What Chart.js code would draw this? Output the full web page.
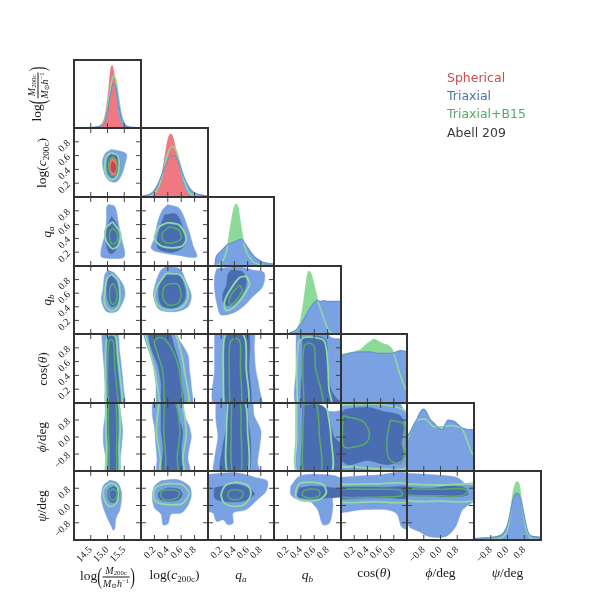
<!DOCTYPE html>
<html>
<head>
<meta charset="utf-8">
<script src="https://cdn.jsdelivr.net/npm/chart.js@4.4.1/dist/chart.umd.min.js"></script>
<style>
body { margin: 0; background: #fff; }
#wrap { position: relative; width: 600px; height: 600px; overflow: hidden; }
#wrap canvas { position: absolute; left: 0; top: 0; }
.ttl { position: absolute; font-family: "Liberation Serif", "DejaVu Serif", serif; font-size: 13.5px; color: #1a1a1a; white-space: nowrap; transform: translate(-50%, -50%); line-height: 1; }
.ttl.rot { transform: translate(-50%, -50%) rotate(-90deg); }
.ttl sub, .ttl sup { font-size: 68%; line-height: 0; }
.ttl sub { vertical-align: -0.25em; }
.ttl sup { vertical-align: 0.45em; }
.fr { display: inline-block; vertical-align: middle; text-align: center; font-size: 10px; margin: 0 1px; }
.fr .nu { display: block; border-bottom: 0.8px solid #1a1a1a; padding: 0 1px 1px; }
.fr .de { display: block; padding-top: 1px; }
.bp { display: inline-block; font-size: 14px; transform: scaleY(1.7); vertical-align: middle; }
.leg { position: absolute; left: 447px; font-family: "DejaVu Sans", sans-serif; font-size: 12.5px; transform: translateY(-50%); white-space: nowrap; }
</style>
</head>
<body>
<div id="wrap"></div>
<script>
// axes: logM, log c200c, qa, qb, cos(theta), phi, psi
const axisMin = [14, 0, 0, 0, 0, -1.6, -1.6];
const axisMax = [16, 1, 1, 1, 1, 1.6, 1.6];
const tickVals = [[14.5, 15, 15.5], [0.2, 0.4, 0.6, 0.8], [0.2, 0.4, 0.6, 0.8], [0.2, 0.4, 0.6, 0.8], [0.2, 0.4, 0.6, 0.8], [-0.8, 0, 0.8], [-0.8, 0, 0.8]];
const tickText = [['14.5', '15.0', '15.5'], ['0.2', '0.4', '0.6', '0.8'], ['0.2', '0.4', '0.6', '0.8'], ['0.2', '0.4', '0.6', '0.8'], ['0.2', '0.4', '0.6', '0.8'], ['\u22120.8', '0.0', '0.8'], ['\u22120.8', '0.0', '0.8']];
const axisTitles = [
  'log<span class="bp">(</span><span class="fr"><span class="nu"><i>M</i><sub>200c</sub></span><span class="de"><i>M</i><sub>\u2299</sub><i>h</i><sup>\u22121</sup></span></span><span class="bp">)</span>',
  'log(<i>c</i><sub>200c</sub>)',
  '<i>q</i><sub><i>a</i></sub>',
  '<i>q</i><sub><i>b</i></sub>',
  'cos(<i>\u03b8</i>)',
  '<i>\u03d5</i>/deg',
  '<i>\u03c8</i>/deg'
];
const legendNames = ['Spherical', 'Triaxial', 'Triaxial+B15', 'Abell 209'];

// 1D marginals (diagonal)
const M_x = [14.0, 14.6, 14.8, 14.9, 15.0, 15.05, 15.1, 15.15, 15.2, 15.25, 15.3, 15.4, 15.5, 15.6, 15.8, 16.0];
const M_red = [0, 0.01, 0.05, 0.15, 0.45, 0.7, 0.9, 0.92, 0.82, 0.6, 0.3, 0.07, 0.01, 0, 0, 0];
const M_green = [0, 0.01, 0.03, 0.08, 0.3, 0.45, 0.62, 0.74, 0.77, 0.7, 0.55, 0.22, 0.06, 0.02, 0, 0];
const M_blue = [0, 0.01, 0.03, 0.06, 0.25, 0.38, 0.52, 0.63, 0.65, 0.6, 0.45, 0.18, 0.06, 0.02, 0.01, 0];

const c_x = [0, 0.05, 0.1, 0.15, 0.2, 0.25, 0.3, 0.35, 0.4, 0.45, 0.5, 0.55, 0.6, 0.65, 0.7, 0.75, 0.8, 0.85, 0.9, 0.95, 1.0];
const c_red = [0, 0, 0, 0.01, 0.04, 0.12, 0.3, 0.58, 0.85, 0.92, 0.8, 0.55, 0.3, 0.13, 0.05, 0.01, 0, 0, 0, 0, 0];
const c_green = [0, 0, 0.01, 0.02, 0.05, 0.12, 0.25, 0.45, 0.63, 0.73, 0.72, 0.6, 0.4, 0.22, 0.1, 0.04, 0.02, 0.01, 0, 0, 0];
const c_blue = [0, 0.02, 0.03, 0.05, 0.1, 0.18, 0.3, 0.42, 0.53, 0.6, 0.6, 0.53, 0.4, 0.27, 0.17, 0.1, 0.06, 0.04, 0.03, 0.02, 0.01];

const qa_x = [0, 0.1, 0.12, 0.15, 0.2, 0.25, 0.3, 0.35, 0.4, 0.43, 0.45, 0.5, 0.55, 0.6, 0.65, 0.7, 0.75, 0.8, 0.85, 0.9, 1.0];
const qa_green = [0, 0, 0.01, 0.01, 0.05, 0.12, 0.3, 0.6, 0.85, 0.89, 0.85, 0.55, 0.3, 0.17, 0.1, 0.05, 0.03, 0.01, 0.01, 0, 0];
const qa_blue = [0, 0, 0.12, 0.17, 0.22, 0.27, 0.31, 0.33, 0.35, 0.36, 0.37, 0.39, 0.34, 0.27, 0.2, 0.14, 0.1, 0.07, 0.05, 0.04, 0.03];

const qb_x = [0, 0.2, 0.25, 0.3, 0.35, 0.4, 0.45, 0.5, 0.52, 0.55, 0.6, 0.65, 0.7, 0.75, 0.8, 0.85, 0.9, 0.95, 1.0];
const qb_green = [0, 0, 0.02, 0.04, 0.08, 0.2, 0.5, 0.85, 0.92, 0.88, 0.7, 0.5, 0.35, 0.21, 0.08, 0.02, 0, 0, 0];
const qb_blue = [0, 0, 0.02, 0.04, 0.08, 0.14, 0.22, 0.32, 0.35, 0.4, 0.46, 0.49, 0.48, 0.49, 0.48, 0.48, 0.48, 0.48, 0.48];

const ct_x = [0, 0.1, 0.2, 0.3, 0.38, 0.45, 0.5, 0.58, 0.65, 0.72, 0.78, 0.83, 0.9, 0.97, 1.0];
const ct_green = [0.70, 0.72, 0.74, 0.77, 0.84, 0.89, 0.92, 0.88, 0.85, 0.83, 0.76, 0.62, 0.40, 0.22, 0.17];
const ct_blue = [0.68, 0.71, 0.73, 0.74, 0.74, 0.74, 0.73, 0.72, 0.72, 0.72, 0.72, 0.74, 0.76, 0.75, 0.74];

const ph_x = [-1.6, -1.4, -1.2, -1.1, -1.0, -0.8, -0.7, -0.5, -0.3, -0.1, 0.1, 0.25, 0.35, 0.5, 0.65, 0.85, 1.0, 1.15, 1.3, 1.45, 1.6];
const ph_blue = [0.5, 0.6, 0.72, 0.78, 0.85, 0.91, 0.88, 0.76, 0.7, 0.63, 0.61, 0.7, 0.75, 0.74, 0.73, 0.68, 0.64, 0.62, 0.61, 0.61, 0.6];
const ph_green = [0.45, 0.6, 0.72, 0.75, 0.76, 0.77, 0.76, 0.7, 0.65, 0.65, 0.65, 0.66, 0.66, 0.67, 0.66, 0.65, 0.63, 0.55, 0.42, 0.3, 0.22];

const ps_x = [-1.6, -1.2, -0.8, -0.4, -0.2, 0, 0.1, 0.2, 0.3, 0.45, 0.55, 0.65, 0.7, 0.8, 0.9, 1.0, 1.1, 1.3, 1.6];
const ps_blue = [0.02, 0.03, 0.04, 0.06, 0.1, 0.22, 0.35, 0.5, 0.62, 0.68, 0.66, 0.56, 0.5, 0.35, 0.2, 0.1, 0.06, 0.05, 0.04];
const ps_green = [0, 0, 0.01, 0.02, 0.05, 0.15, 0.3, 0.52, 0.72, 0.84, 0.8, 0.6, 0.5, 0.3, 0.15, 0.07, 0.03, 0.01, 0];

// 2D contours, [x, y] in data units. b = Triaxial, g = Triaxial+B15, r = Spherical; 95 / 68 levels
const c_M_b95 = [[15.12, 0.69], [15.42, 0.66], [15.57, 0.62], [15.52, 0.47], [15.42, 0.32], [15.27, 0.22], [15.07, 0.23], [14.92, 0.32], [14.85, 0.52], [14.95, 0.64]];
const c_M_b68 = [[15.1, 0.62], [15.28, 0.6], [15.37, 0.5], [15.33, 0.36], [15.22, 0.28], [15.07, 0.3], [14.99, 0.4], [15.0, 0.55]];
const c_M_g95 = [[15.12, 0.64], [15.3, 0.6], [15.35, 0.45], [15.28, 0.3], [15.12, 0.25], [14.96, 0.32], [14.92, 0.48], [14.98, 0.6]];
const c_M_g68 = [[15.15, 0.59], [15.27, 0.53], [15.29, 0.42], [15.22, 0.31], [15.1, 0.32], [15.03, 0.42], [15.05, 0.54]];
const c_M_r95 = [[15.15, 0.57], [15.26, 0.52], [15.29, 0.4], [15.22, 0.32], [15.1, 0.33], [15.05, 0.42], [15.08, 0.53]];
const c_M_r68 = [[15.16, 0.52], [15.24, 0.46], [15.24, 0.38], [15.17, 0.35], [15.11, 0.4], [15.11, 0.48]];

const qa_M_b95 = [[15.02, 0.89], [15.22, 0.86], [15.32, 0.64], [15.42, 0.40], [15.52, 0.18], [15.47, 0.12], [15.17, 0.11], [14.82, 0.13], [14.82, 0.26], [14.92, 0.45], [14.97, 0.69], [14.97, 0.84]];
const qa_M_b68 = [[15.12, 0.72], [15.29, 0.59], [15.32, 0.38], [15.22, 0.21], [15.07, 0.18], [14.97, 0.30], [14.99, 0.55]];
const qa_M_g95 = [[15.15, 0.64], [15.39, 0.47], [15.32, 0.30], [15.15, 0.25], [14.95, 0.38], [14.95, 0.55]];
const qa_M_g68 = [[15.17, 0.55], [15.29, 0.47], [15.27, 0.35], [15.15, 0.32], [15.07, 0.38], [15.07, 0.50]];

const qb_M_b95 = [[15.02, 0.94], [15.22, 0.89], [15.47, 0.72], [15.52, 0.57], [15.42, 0.43], [15.27, 0.33], [14.97, 0.33], [14.82, 0.50], [14.87, 0.67], [14.92, 0.87]];
const qb_M_b68 = [[15.07, 0.89], [15.27, 0.77], [15.35, 0.57], [15.27, 0.43], [15.12, 0.40], [14.99, 0.53], [14.99, 0.75]];
const qb_M_g95 = [[15.12, 0.88], [15.32, 0.79], [15.37, 0.57], [15.32, 0.40], [15.12, 0.34], [14.92, 0.43], [14.92, 0.62], [14.99, 0.82]];
const qb_M_g68 = [[15.15, 0.75], [15.27, 0.65], [15.27, 0.50], [15.17, 0.43], [15.07, 0.50], [15.07, 0.67]];

const ct_M_b95 = [[14.82, 1.05], [15.27, 1.05], [15.36, 0.75], [15.42, 0.5], [15.47, 0.25], [15.49, -0.05], [14.97, -0.05], [14.93, 0.25], [14.9, 0.5], [14.86, 0.75]];
const ct_M_b68 = [[14.95, 1.05], [15.2, 1.05], [15.28, 0.6], [15.35, 0.25], [15.37, -0.05], [15.07, -0.05], [15.02, 0.3], [14.97, 0.65]];
const ct_M_g95 = [[14.95, -0.05], [14.94, 0.4], [14.95, 0.8], [15.0, 0.97], [15.12, 0.99], [15.25, 0.95], [15.3, 0.7], [15.37, 0.4], [15.42, -0.05]];
const ct_M_g68 = [[15.02, -0.05], [15.0, 0.4], [15.03, 0.85], [15.1, 0.92], [15.18, 0.88], [15.22, 0.5], [15.28, 0.2], [15.3, -0.05]];

const ph_M_b95 = [[14.93, 1.7], [15.3, 1.7], [15.4, 1.0], [15.45, 0.3], [15.42, -0.4], [15.38, -1.0], [15.35, -1.7], [14.95, -1.7], [14.95, -1.0], [14.88, -0.3], [14.88, 0.4], [14.93, 1.0]];
const ph_M_b68 = [[15.0, 1.7], [15.27, 1.7], [15.32, 0.5], [15.3, -0.5], [15.28, -1.7], [15.05, -1.7], [15.03, -0.5], [14.98, 0.5]];
const ph_M_g95 = [[14.97, 1.7], [14.95, 0.5], [14.97, -0.5], [14.99, -1.7], [15.33, -1.7], [15.35, -0.5], [15.38, 0.5], [15.3, 1.7]];
const ph_M_g68 = [[15.03, 1.7], [15.02, 0.5], [15.05, -0.5], [15.07, -1.7], [15.25, -1.7], [15.27, -0.5], [15.28, 0.5], [15.23, 1.7]];

const ps_M_b95 = [[15.07, 1.18], [15.3, 1.05], [15.42, 0.59], [15.37, -0.19], [15.25, -0.6], [15.22, -1.05], [15.17, -1.15], [15.12, -0.97], [14.97, -0.5], [14.82, 0.28], [14.87, 0.9]];
const ps_M_b68 = [[15.17, 0.9], [15.3, 0.78], [15.35, 0.5], [15.28, 0.2], [15.12, 0.14], [15.02, 0.35], [15.03, 0.72]];
const ps_M_g95 = [[15.1, 1.05], [15.28, 0.9], [15.32, 0.5], [15.25, 0.08], [15.05, -0.04], [14.9, 0.3], [14.9, 0.8]];
const ps_M_g68 = [[15.17, 0.77], [15.27, 0.66], [15.29, 0.5], [15.22, 0.28], [15.1, 0.28], [15.05, 0.5], [15.08, 0.7]];

const qa_c_b95 = [[0.40, 0.89], [0.575, 0.83], [0.70, 0.55], [0.775, 0.30], [0.83, 0.13], [0.525, 0.16], [0.225, 0.21], [0.15, 0.26], [0.20, 0.40], [0.25, 0.64], [0.32, 0.81]];
const qa_c_b68 = [[0.35, 0.74], [0.525, 0.75], [0.625, 0.55], [0.65, 0.30], [0.475, 0.20], [0.25, 0.26], [0.265, 0.50]];
const qa_c_g95 = [[0.40, 0.63], [0.575, 0.59], [0.675, 0.40], [0.60, 0.28], [0.325, 0.28], [0.20, 0.40], [0.275, 0.57]];
const qa_c_g68 = [[0.425, 0.57], [0.565, 0.52], [0.60, 0.40], [0.50, 0.34], [0.35, 0.35], [0.315, 0.47]];

const qb_c_b95 = [[0.375, 0.99], [0.575, 0.96], [0.675, 0.77], [0.75, 0.57], [0.70, 0.40], [0.525, 0.33], [0.275, 0.36], [0.185, 0.57], [0.225, 0.77], [0.30, 0.94]];
const qb_c_b68 = [[0.35, 0.87], [0.55, 0.89], [0.65, 0.70], [0.65, 0.50], [0.50, 0.38], [0.30, 0.43], [0.265, 0.67]];
const qb_c_g95 = [[0.375, 0.89], [0.575, 0.87], [0.675, 0.72], [0.70, 0.53], [0.60, 0.39], [0.35, 0.36], [0.215, 0.48], [0.225, 0.67]];
const qb_c_g68 = [[0.425, 0.74], [0.55, 0.73], [0.60, 0.57], [0.55, 0.45], [0.40, 0.43], [0.325, 0.55], [0.35, 0.70]];

const ct_c_b95 = [[0.02, 1.05], [0.48, 1.05], [0.58, 0.9], [0.7, 0.7], [0.72, 0.5], [0.75, 0.25], [0.75, -0.05], [0.27, -0.05], [0.22, 0.3], [0.17, 0.6], [0.08, 0.85]];
const ct_c_b68 = [[0.1, 1.05], [0.4, 1.05], [0.5, 0.8], [0.575, 0.55], [0.6, 0.3], [0.625, -0.05], [0.325, -0.05], [0.3, 0.3], [0.25, 0.55], [0.15, 0.8]];
const ct_c_g95 = [[0.29, -0.05], [0.21, 0.45], [0.12, 0.8], [0.07, 1.05], [0.47, 1.05], [0.58, 0.8], [0.65, 0.45], [0.7, -0.05]];
const ct_c_g68 = [[0.35, -0.05], [0.325, 0.45], [0.22, 0.8], [0.2, 0.9], [0.28, 0.95], [0.38, 0.9], [0.5, 0.7], [0.575, 0.45], [0.6, -0.05]];

const ph_c_b95 = [[0.17, 1.7], [0.6, 1.7], [0.65, 1.0], [0.72, 0.5], [0.75, 0.0], [0.72, -0.5], [0.7, -1.0], [0.72, -1.7], [0.25, -1.7], [0.24, -1.0], [0.22, -0.3], [0.2, 0.5], [0.17, 1.0]];
const ph_c_b68 = [[0.3, 1.7], [0.5, 1.7], [0.55, 1.0], [0.62, 0.3], [0.6, -0.5], [0.6, -1.7], [0.33, -1.7], [0.33, -0.5], [0.3, 0.3], [0.3, 1.0]];
const ph_c_g95 = [[0.27, 1.7], [0.23, 0.3], [0.29, -1.0], [0.3, -1.7], [0.63, -1.7], [0.625, -1.0], [0.675, 0.3], [0.575, 1.7]];
const ph_c_g68 = [[0.35, 1.7], [0.34, 0.3], [0.37, -1.0], [0.38, -1.7], [0.55, -1.7], [0.54, -1.0], [0.58, 0.3], [0.5, 1.7]];

const ps_c_b95 = [[0.3, 1.15], [0.55, 1.2], [0.72, 0.9], [0.75, 0.45], [0.7, 0.0], [0.6, -0.35], [0.45, -0.4], [0.4, -0.85], [0.33, -0.9], [0.3, -0.4], [0.2, -0.1], [0.17, 0.4], [0.2, 0.9]];
const ps_c_b68 = [[0.4, 0.82], [0.57, 0.75], [0.615, 0.5], [0.55, 0.25], [0.4, 0.2], [0.28, 0.3], [0.265, 0.6]];
const ps_c_g95 = [[0.4, 1.02], [0.62, 0.95], [0.715, 0.55], [0.62, 0.1], [0.4, 0.04], [0.22, 0.2], [0.185, 0.6], [0.25, 0.9]];
const ps_c_g68 = [[0.42, 0.74], [0.55, 0.68], [0.575, 0.5], [0.5, 0.3], [0.35, 0.28], [0.29, 0.5], [0.32, 0.68]];

const qb_qa_b95 = [[0.13, 0.96], [0.48, 0.99], [0.68, 0.94], [0.85, 0.9], [0.83, 0.70], [0.68, 0.55], [0.53, 0.40], [0.38, 0.31], [0.20, 0.28], [0.15, 0.38], [0.10, 0.65], [0.10, 0.84]];
const qb_qa_b68 = [[0.35, 0.94], [0.53, 0.91], [0.58, 0.74], [0.50, 0.55], [0.38, 0.43], [0.25, 0.43], [0.22, 0.57], [0.28, 0.72], [0.30, 0.87]];
const qb_qa_g95 = [[0.58, 0.85], [0.63, 0.74], [0.53, 0.55], [0.38, 0.38], [0.27, 0.35], [0.25, 0.48], [0.35, 0.67], [0.48, 0.83]];
const qb_qa_g68 = [[0.48, 0.72], [0.52, 0.65], [0.43, 0.50], [0.34, 0.43], [0.32, 0.50], [0.38, 0.62]];

const ct_qa_b95 = [[0.1, 1.05], [0.68, 1.05], [0.7, 0.8], [0.72, 0.5], [0.78, 0.2], [0.8, -0.05], [0.1, -0.05], [0.1, 0.5]];
const ct_qa_b68 = [[0.25, 1.05], [0.6, 1.05], [0.62, 0.5], [0.63, -0.05], [0.28, -0.05], [0.25, 0.5]];
const ct_qa_g95 = [[0.24, -0.05], [0.23, 0.5], [0.24, 0.9], [0.3, 1.02], [0.5, 1.02], [0.57, 0.9], [0.58, 0.5], [0.6, -0.05]];
const ct_qa_g68 = [[0.33, -0.05], [0.32, 0.5], [0.33, 0.85], [0.38, 0.93], [0.45, 0.93], [0.49, 0.85], [0.49, 0.5], [0.5, -0.05]];

const ph_qa_b95 = [[0.12, 1.7], [0.65, 1.7], [0.7, 1.0], [0.8, 0.3], [0.78, -0.5], [0.75, -1.2], [0.78, -1.7], [0.1, -1.7], [0.1, -1.0], [0.15, 0.0], [0.12, 0.8]];
const ph_qa_b68 = [[0.28, 1.7], [0.55, 1.7], [0.62, 0.5], [0.65, -0.5], [0.6, -1.7], [0.2, -1.7], [0.22, -0.5], [0.28, 0.5]];
const ph_qa_g95 = [[0.3, 1.7], [0.28, 0.3], [0.3, -1.7], [0.6, -1.7], [0.6, 0.3], [0.55, 1.7]];
const ph_qa_g68 = [[0.36, 1.7], [0.35, 0.3], [0.37, -1.7], [0.5, -1.7], [0.5, 0.3], [0.48, 1.7]];

const ps_qa_b95 = [[0.0, 1.44], [0.43, 1.52], [0.73, 1.29], [0.90, 1.13], [0.88, 0.66], [0.75, 0.28], [0.58, -0.19], [0.38, -0.35], [0.38, -0.81], [0.30, -0.89], [0.23, -0.66], [0.13, -0.74], [0.075, -0.35], [-0.05, -0.19], [-0.05, 1.4]];
const ps_qa_b68 = [[0.10, 0.82], [0.43, 0.98], [0.65, 0.74], [0.70, 0.51], [0.53, 0.20], [0.23, 0.20], [0.10, 0.35]];
const ps_qa_g95 = [[0.42, 1.08], [0.6, 0.95], [0.65, 0.5], [0.55, 0.05], [0.42, -0.04], [0.25, 0.1], [0.2, 0.5], [0.27, 0.95]];
const ps_qa_g68 = [[0.42, 0.74], [0.52, 0.65], [0.53, 0.45], [0.45, 0.28], [0.33, 0.32], [0.3, 0.52], [0.34, 0.7]];

const ct_qb_b95 = [[0.33, 1.05], [0.75, 1.05], [0.85, 0.95], [1.05, 0.9], [1.05, -0.05], [0.35, -0.05], [0.33, 0.5]];
const ct_qb_b68 = [[0.43, 0.95], [0.65, 0.97], [0.78, 0.9], [0.8, 0.5], [0.85, 0.2], [0.95, 0.05], [1.05, 0.0], [1.05, -0.05], [0.45, -0.05], [0.42, 0.5]];
const ct_qb_g95 = [[0.35, -0.05], [0.34, 0.5], [0.37, 0.88], [0.45, 0.95], [0.6, 0.95], [0.75, 0.9], [0.8, 0.6], [0.82, 0.2], [0.85, -0.05]];
const ct_qb_g68 = [[0.45, -0.05], [0.43, 0.5], [0.45, 0.82], [0.52, 0.87], [0.6, 0.82], [0.62, 0.5], [0.7, 0.2], [0.73, -0.05]];

const ph_qb_b95 = [[0.35, 1.7], [0.65, 1.7], [0.7, 1.3], [0.9, 1.2], [1.05, 1.2], [1.05, -1.7], [0.37, -1.7], [0.35, 0.0]];
const ph_qb_b68 = [[0.43, 1.5], [0.7, 1.5], [0.8, 1.2], [0.85, 0.5], [0.9, 0.0], [1.05, -0.5], [1.05, -1.7], [0.45, -1.7], [0.42, 0.0]];
const ph_qb_g95 = [[0.33, 1.7], [0.33, 0.0], [0.35, -1.7], [0.85, -1.7], [0.85, 0.0], [0.8, 1.2], [0.75, 1.7]];
const ph_qb_g68 = [[0.45, 1.7], [0.43, 0.0], [0.45, -1.7], [0.7, -1.7], [0.68, 0.0], [0.62, 1.7]];

const ps_qb_b95 = [[0.25, 0.90], [0.38, 1.36], [0.68, 1.44], [0.98, 1.29], [1.05, 0.66], [0.88, 0.35], [0.88, -0.04], [0.83, -0.81], [0.73, -0.89], [0.65, -0.19], [0.53, 0.20], [0.33, 0.31], [0.25, 0.51]];
const ps_qb_b68 = [[0.38, 0.82], [0.58, 0.90], [0.88, 0.82], [1.05, 0.74], [1.05, 0.44], [0.78, 0.35], [0.53, 0.31], [0.35, 0.43]];
const ps_qb_g95 = [[0.33, 0.74], [0.38, 1.02], [0.53, 1.08], [0.73, 0.97], [0.78, 0.59], [0.68, 0.28], [0.48, 0.20], [0.33, 0.35]];
const ps_qb_g68 = [[0.43, 0.66], [0.55, 0.78], [0.68, 0.66], [0.67, 0.43], [0.53, 0.35], [0.42, 0.47]];

const ph_ct_b95 = [[-0.05, 1.7], [0.85, 1.7], [0.95, 1.3], [1.05, 1.0], [1.05, -1.7], [-0.05, -1.7]];
const ph_ct_b68 = [[0.05, 1.3], [0.4, 1.4], [0.65, 1.2], [0.9, 1.0], [0.95, 0.5], [0.92, -0.3], [0.95, -1.0], [0.7, -1.3], [0.4, -1.1], [0.1, -1.3], [-0.05, -0.8], [-0.05, 0.8]];
const ph_ct_g95 = [[-0.05, 1.5], [0.5, 1.55], [0.85, 1.4], [1.0, 1.1], [1.0, -1.4], [0.6, -1.5], [0.2, -1.4], [-0.05, -1.3]];
const ph_ct_g68a = [[0.03, 1.0], [0.33, 0.74], [0.43, 0.19], [0.38, -0.28], [0.13, -0.51], [0.03, -0.4]];
const ph_ct_g68b = [[0.75, 0.8], [0.95, 0.6], [0.97, -0.5], [0.9, -1.25], [0.72, -1.0], [0.7, 0.0]];

const ps_ct_b95 = [[-0.05, 1.3], [0.5, 1.4], [1.05, 1.4], [1.05, -1.1], [0.92, -1.0], [0.85, -0.4], [0.7, -0.2], [0.3, -0.2], [-0.05, -0.25]];
const ps_ct_b68 = [[-0.05, 0.85], [0.35, 0.86], [0.7, 0.85], [1.05, 0.85], [1.05, 0.35], [0.7, 0.36], [0.35, 0.35], [-0.05, 0.35]];
const ps_ct_g95 = [[-0.05, 0.97], [0.5, 1.0], [1.05, 0.97], [1.05, 0.2], [0.5, 0.18], [-0.05, 0.2]];
const ps_ct_g68 = [[-0.05, 0.77], [0.6, 0.75], [0.9, 0.7], [0.92, 0.45], [0.6, 0.4], [-0.05, 0.4]];

const ps_ph_b95 = [[-1.7, 1.5], [0.0, 1.4], [0.8, 1.3], [1.2, 1.0], [1.7, 0.9], [1.7, 0.3], [1.05, -0.2], [0.73, -0.97], [0.25, -1.44], [-0.55, -1.44], [-1.03, -1.2], [-1.5, -0.97], [-1.7, -0.2]];
const ps_ph_b68 = [[-1.7, 0.85], [-0.5, 0.8], [0.5, 0.9], [1.2, 0.8], [1.3, 0.5], [0.5, 0.4], [-0.5, 0.45], [-1.7, 0.5]];
const ps_ph_g95 = [[-1.7, 1.0], [0.0, 0.95], [1.2, 1.0], [1.7, 1.0], [1.7, 0.25], [0.0, 0.2], [-1.7, 0.28]];
const ps_ph_g68 = [[-1.7, 0.78], [0.0, 0.75], [1.0, 0.78], [1.3, 0.65], [1.0, 0.45], [0.0, 0.45], [-1.7, 0.5]];

// panel tables built from the arrays above
const diagPanels = [
  { x: M_x, green: M_green, blue: M_blue, red: M_red },
  { x: c_x, green: c_green, blue: c_blue, red: c_red },
  { x: qa_x, green: qa_green, blue: qa_blue },
  { x: qb_x, green: qb_green, blue: qb_blue },
  { x: ct_x, green: ct_green, blue: ct_blue },
  { x: ph_x, green: ph_green, blue: ph_blue },
  { x: ps_x, green: ps_green, blue: ps_blue }
];
const panels2d = [
  { row: 1, col: 0, b: [c_M_b95, c_M_b68], r: [c_M_r95, c_M_r68], g95: [c_M_g95], g68: [c_M_g68] },
  { row: 2, col: 0, b: [qa_M_b95, qa_M_b68], g95: [qa_M_g95], g68: [qa_M_g68] },
  { row: 3, col: 0, b: [qb_M_b95, qb_M_b68], g95: [qb_M_g95], g68: [qb_M_g68] },
  { row: 4, col: 0, b: [ct_M_b95, ct_M_b68], g95: [ct_M_g95], g68: [ct_M_g68] },
  { row: 5, col: 0, b: [ph_M_b95, ph_M_b68], g95: [ph_M_g95], g68: [ph_M_g68] },
  { row: 6, col: 0, b: [ps_M_b95, ps_M_b68], g95: [ps_M_g95], g68: [ps_M_g68] },
  { row: 2, col: 1, b: [qa_c_b95, qa_c_b68], g95: [qa_c_g95], g68: [qa_c_g68] },
  { row: 3, col: 1, b: [qb_c_b95, qb_c_b68], g95: [qb_c_g95], g68: [qb_c_g68] },
  { row: 4, col: 1, b: [ct_c_b95, ct_c_b68], g95: [ct_c_g95], g68: [ct_c_g68] },
  { row: 5, col: 1, b: [ph_c_b95, ph_c_b68], g95: [ph_c_g95], g68: [ph_c_g68] },
  { row: 6, col: 1, b: [ps_c_b95, ps_c_b68], g95: [ps_c_g95], g68: [ps_c_g68] },
  { row: 3, col: 2, b: [qb_qa_b95, qb_qa_b68], g95: [qb_qa_g95], g68: [qb_qa_g68] },
  { row: 4, col: 2, b: [ct_qa_b95, ct_qa_b68], g95: [ct_qa_g95], g68: [ct_qa_g68] },
  { row: 5, col: 2, b: [ph_qa_b95, ph_qa_b68], g95: [ph_qa_g95], g68: [ph_qa_g68] },
  { row: 6, col: 2, b: [ps_qa_b95, ps_qa_b68], g95: [ps_qa_g95], g68: [ps_qa_g68] },
  { row: 4, col: 3, b: [ct_qb_b95, ct_qb_b68], g95: [ct_qb_g95], g68: [ct_qb_g68] },
  { row: 5, col: 3, b: [ph_qb_b95, ph_qb_b68], g95: [ph_qb_g95], g68: [ph_qb_g68] },
  { row: 6, col: 3, b: [ps_qb_b95, ps_qb_b68], g95: [ps_qb_g95], g68: [ps_qb_g68] },
  { row: 5, col: 4, b: [ph_ct_b95, ph_ct_b68], g95: [ph_ct_g95], g68: [ph_ct_g68a, ph_ct_g68b] },
  { row: 6, col: 4, b: [ps_ct_b95, ps_ct_b68], g95: [ps_ct_g95], g68: [ps_ct_g68] },
  { row: 6, col: 5, b: [ps_ph_b95, ps_ph_b68], g95: [ps_ph_g95], g68: [ps_ph_g68] }
];

// layout of the grid (pixels)
const colEdges = [74, 141, 208, 274, 341, 407, 474, 541];
const rowEdges = [60, 128, 197, 266, 334, 403, 471, 540];
const Y_AXIS_W = 34;
const X_AXIS_H = 30;
const bottomTitleY = [577, 575, 575, 575, 573, 573, 573];
const leftTitleX = [38, 42, 47, 47, 43, 42, 42];
const legendY = [76.5, 94.5, 113, 131.5];
const legendColors = ['#cc4a50', '#4c72b0', '#55a868', '#3a3a3a'];

const BLUE_LIGHT = '#7aa1e2';
const BLUE_DARK = '#4a6db2';
const BLUE_LINE = '#6890d6';
const GREEN_FILL = '#8cda98';
const GREEN_LIGHT = '#8fdc9c';
const GREEN_DARK = '#55ad66';
const RED_LIGHT = '#f07880';
const RED_DARK = '#c9454d';

const wrap = document.getElementById('wrap');

// frame and inward ticks
const framePlugin = {
  id: 'frame',
  afterDatasetsDraw(chart, args, opts) {
    const { ctx, chartArea: a, scales } = chart;
    ctx.save();
    ctx.strokeStyle = '#444';
    ctx.lineWidth = 1;
    ctx.beginPath();
    opts.xt.forEach(v => {
      const px = scales.x.getPixelForValue(v);
      ctx.moveTo(px, a.bottom); ctx.lineTo(px, a.bottom - 5);
      if (opts.yt) { ctx.moveTo(px, a.top); ctx.lineTo(px, a.top + 5); }
    });
    if (opts.yt) {
      opts.yt.forEach(v => {
        const py = scales.y.getPixelForValue(v);
        ctx.moveTo(a.left, py); ctx.lineTo(a.left + 5, py);
        ctx.moveTo(a.right, py); ctx.lineTo(a.right - 5, py);
      });
    }
    ctx.stroke();
    ctx.strokeStyle = '#333';
    ctx.lineWidth = 2;
    ctx.strokeRect(a.left, a.top, a.right - a.left, a.bottom - a.top);
    ctx.restore();
  }
};

function axisOpts(i, show, dir) {
  return {
    type: 'linear',
    min: axisMin[i],
    max: axisMax[i],
    display: show,
    grid: { display: false, drawTicks: false },
    border: { display: false },
    afterBuildTicks: s => { s.ticks = tickVals[i].map(v => ({ value: v })); },
    afterFit: s => {
      if (dir === 'x') s.height = show ? X_AXIS_H : 0; else s.width = show ? Y_AXIS_W : 0;
      s.paddingLeft = 0; s.paddingRight = 0; s.paddingTop = 0; s.paddingBottom = 0;
    },
    ticks: {
      autoSkip: false,
      minRotation: 45,
      maxRotation: 45,
      padding: dir === 'x' ? 4 : 5,
      color: '#1a1a1a',
      font: { family: 'Liberation Serif', size: 10 },
      callback: (v, k) => tickText[i][k]
    }
  };
}

function pts(list, close) {
  const out = list.map(p => ({ x: p[0], y: p[1] }));
  if (close) out.push({ x: list[0][0], y: list[0][1] });
  return out;
}

function shapeSet(list, color) {
  return { data: pts(list, true), backgroundColor: color, borderColor: color, borderWidth: 0.5, fill: 'shape', clip: 0 };
}

function contourSet(list, color, w) {
  return { data: pts(list, true), borderColor: color, borderWidth: w, fill: false, clip: 0 };
}

function curveSet(xs, ys, color, filled, w) {
  return {
    data: xs.map((x, k) => ({ x: x, y: ys[k] })),
    borderColor: color,
    backgroundColor: color,
    borderWidth: w,
    fill: filled ? 'origin' : false,
    cubicInterpolationMode: 'monotone',
    clip: 0
  };
}

function makeChart(row, col, sets, diag) {
  const cv = document.createElement('canvas');
  cv.width = 600;
  cv.height = 600;
  wrap.appendChild(cv);
  const xLab = row === 6;
  const yLab = col === 0 && !diag;
  new Chart(cv, {
    type: 'line',
    data: { datasets: sets.slice().reverse() },
    options: {
      responsive: false,
      animation: false,
      events: [],
      layout: {
        padding: {
          left: colEdges[col] - (yLab ? Y_AXIS_W : 0),
          right: 600 - colEdges[col + 1],
          top: rowEdges[row],
          bottom: 600 - rowEdges[row + 1] - (xLab ? X_AXIS_H : 0)
        }
      },
      elements: {
        point: { radius: 0 },
        line: { tension: 0.3, capBezierPoints: false }
      },
      plugins: {
        legend: { display: false },
        tooltip: { enabled: false },
        frame: { xt: tickVals[col], yt: diag ? null : tickVals[row] }
      },
      scales: {
        x: axisOpts(col, xLab, 'x'),
        y: diag ? { type: 'linear', display: false, min: 0, max: 1 } : axisOpts(row, yLab, 'y')
      }
    },
    plugins: [framePlugin]
  });
}

// diagonal panels
diagPanels.forEach((d, i) => {
  const sets = [];
  sets.push(curveSet(d.x, d.green, GREEN_FILL, true, 0));
  sets.push(curveSet(d.x, d.blue, BLUE_LIGHT, true, 0));
  if (d.red) sets.push(curveSet(d.x, d.red, RED_LIGHT, true, 0));
  sets.push(curveSet(d.x, d.green, GREEN_LIGHT, false, 1.5));
  sets.push(curveSet(d.x, d.blue, BLUE_LINE, false, 1.2));
  makeChart(i, i, sets, true);
});

// 2D panels
panels2d.forEach(p => {
  const sets = [];
  sets.push(shapeSet(p.b[0], BLUE_LIGHT));
  sets.push(shapeSet(p.b[1], BLUE_DARK));
  if (p.r) {
    sets.push(shapeSet(p.r[0], RED_LIGHT));
    sets.push(shapeSet(p.r[1], RED_DARK));
  }
  p.g95.forEach(c => sets.push(contourSet(c, GREEN_LIGHT, 1.8)));
  p.g68.forEach(c => sets.push(contourSet(c, GREEN_DARK, 1.5)));
  makeChart(p.row, p.col, sets, false);
});

// axis titles
axisTitles.forEach((t, i) => {
  const b = document.createElement('div');
  b.className = 'ttl';
  b.innerHTML = t;
  b.style.left = ((colEdges[i] + colEdges[i + 1]) / 2) + 'px';
  b.style.top = bottomTitleY[i] + 'px';
  wrap.appendChild(b);
  const l = document.createElement('div');
  l.className = 'ttl rot';
  l.innerHTML = t;
  l.style.left = leftTitleX[i] + 'px';
  l.style.top = ((rowEdges[i] + rowEdges[i + 1]) / 2) + 'px';
  wrap.appendChild(l);
});

// legend text
legendNames.forEach((n, i) => {
  const d = document.createElement('div');
  d.className = 'leg';
  d.textContent = n;
  d.style.top = legendY[i] + 'px';
  d.style.color = legendColors[i];
  wrap.appendChild(d);
});
</script>
</body>
</html>
